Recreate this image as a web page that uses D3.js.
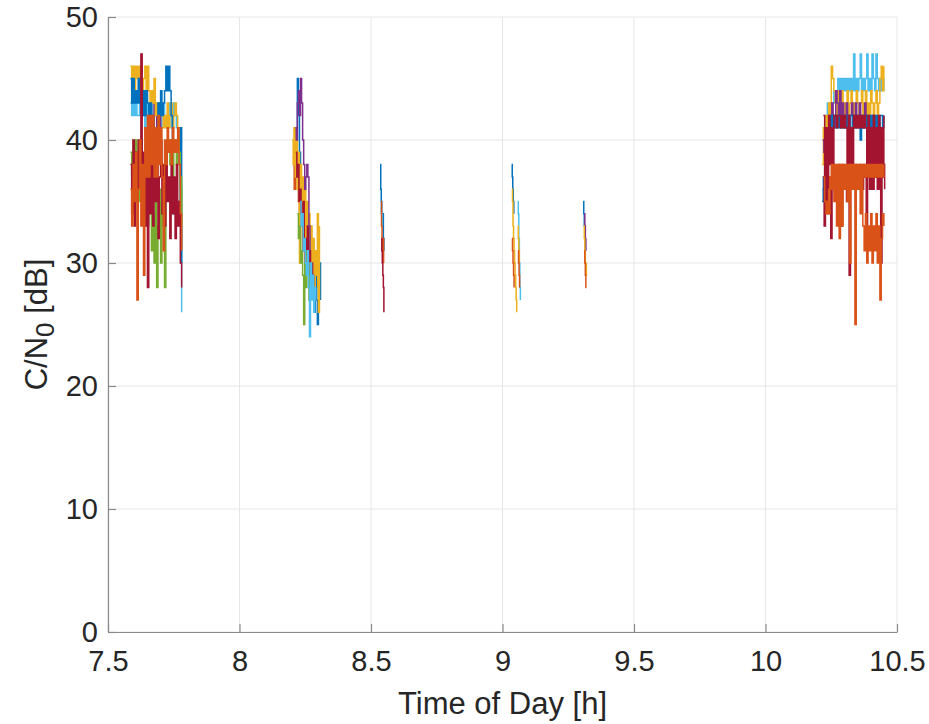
<!DOCTYPE html>
<html><head><meta charset="utf-8">
<script src="https://cdn.jsdelivr.net/npm/d3@7"></script>
<style>
body{margin:0;background:#fff}
svg{display:block}
text{font-family:"Liberation Sans",Arial,Helvetica,sans-serif;fill:#262626}
</style>
</head><body>
<svg id="c" width="929" height="724"></svg>
<script>
// ---------- axis data ----------
const xTicks = [7.5, 8, 8.5, 9, 9.5, 10, 10.5];
const yTicks = [0, 10, 20, 30, 40, 50];
const xDomain = [7.5, 10.5];
const yDomain = [0, 50];
const xLabel = "Time of Day [h]";
const yLabelMain = "C/N";
const yLabelSub = "0";
const yLabelTail = " [dB]";
// MATLAB default color order
const palette = ["#0072BD", "#D95319", "#EDB120", "#7E2F8E", "#77AC30", "#4DBEEE", "#A2142F"];

// ---------- C/N0 series (dB) ----------
// pass 1 (~7.59-7.78 h), step 0.005 h
const c1LightBlue = [43,42,43,42,43,42,42,43,42,43, 42,41,43,42,40,42,43,41,42,43, 42,43,42,41,42,43,42,41,42,43, 42,41,42,43,42,41,40,38,33,26];
const c1Purple = [41,43,42,41,43,42,40,42,41,43];
const c1Yellow = [46,44,46,44,46,45,46,44,46,44, 45,46,43,46,44,42,44,43,45,42, 43,41,43,42,43,41,42,41,43,41, 42,43,41,42,43,42,41,40,36,31];
const c1Blue = [45,43,45,43,44,43,45,43,44,42, 44,42,44,43,41,43,40,42,39,41, 41,43,42,44,42,43,44,46,44,46, 44,42,35,34,35,34,35,34,41,30];
const c1Green = [39,37,40,36,40,38,39,35,40,37, 38,34,37,33,38,35,31,34,30,37, 28,33,36,30,35,33,28,36,39,40, 38,40,37,39,40,38,40,39,37,33];
const c1DarkRed = [38,34,40,33,39,35,40,36,47,34, 39,33,37,28,38,34,40,33,38,35, 39,32,37,40,34,38,33,39,35,37, 32,38,34,37,32,38,33,35,30,28];
const c1Orange = [36,33,38,35,39,27,36,40,33,38, 29,41,37,42,37,42,38,42,37,41, 37,42,38,41,37,31,40,38,41,39, 40,38,41,39,40,39,41,38,34,31];
// pass 2 (~8.20-8.31 h), step 0.004 h
const c2Yellow = [40,38,41,37,40,36,39,30,38,35,37,33,36,31,35,30,34,29,33,28,32,27,31,29,34,26,33];
const c2Yellow2 = [39,41,38,40,36,38,34,37,33,36,32,35,31,34,30,33,29,32,28,31,27,30,28,29,27];
const c2Purple = [41,40,43,44,42,45,43,40,38,36,37,38,37,33,31];
const c2Blue = [40,45,42,39,36,35,36,34,33,31,34,30,32,29,31,28,30,26,29,27,25,28,30,27];
const c2Orange = [38,36,38,37,36,35,34,33,35,31,32,29,31,30,29,31,28,30,29,31,28,29];
const c2Green = [34,32,33,30,31,29,25,30,28,31,29,27,30,28];
const c2LightBlue = [35,33,34,31,32,30,29,31,28,24,30,27,29,26,28,27];
const c2DarkRed = [39,37,38,35,36,34,33,35,31,32,30,33,29,31,28,30,29,27];
// pass 3 (~8.54 h), step 0.002 h
const c3Blue = [38,36,35,34,33,34,32,31];
const c3LightBlue = [35,34,33,34];
const c3Orange = [35,33,32,31,32,30];
const c3DarkRed = [32,31,30,29,28,26];
// pass 4 (~9.04-9.06 h), step 0.002 h
const c4Blue = [38,37,36,35,34];
const c4Yellow = [36,35,33,32,31,30,29,28,27,26];
const c4Orange = [32,31,30,29,28];
const c4LightBlue = [35,34,32,30,28,27];
const c4Orange2 = [31,30,29,28];
const c4Yellow2 = [33,32,31,30];
// pass 5 (~9.31 h), step 0.002 h
const c5Blue = [35,34,33,32,31];
const c5Purple = [34,33,32,31];
const c5Yellow = [33,32,31,30,29,30];
const c5Orange = [31,30,29,28,28];
// pass 6 (~10.22-10.45 h), step 0.005 h
const c6LightBlue = [36,35,38,42,43,42,43,42,43,44, 43,44,45,44,45,44,45,44,45,44, 45,44,45,44,47,44,45,44,45,47, 44,45,44,45,47,44,45,44,47,45, 44,47,45,44,45,44,45,44];
const c6Yellow = [38,41,37,42,40,43,42,46,45,44, 43,42,44,43,42,44,43,42,43,44, 42,43,44,42,43,42,44,43,42,43, 44,42,43,44,42,43,42,44,43,42, 43,44,42,43,45,46,44,46];
const c6Purple = [40,39,41,40,38,42,41,43,42,41, 44,43,42,44,41,43,42,41,43,42, 41,42,43,41,42,43,41,42,43,41, 42,41,43,42,41,42,41,41,42,41];
const c6Blue = [35,37,36,39,41,40,41,42,41,42, 42,41,42,41,42,42,41,42,41,42, 41,42,42,41,42,41,42,42,41,40, 42,41,42,41,42,40,41,42,41,42, 41,42,40,41,42,42,41,42];
const c6DarkRedHigh = [42,37,41,36,42,38,41,37,42, 42,41,42,42,41,42,41,42, 41,36,42,37,41,36, 42,41,42,41,42,41,42,41,42,41, 37,42,36,41,38,42,37,41,36,42,38,41,37,42];
const c6DarkRedLow = [37,33,38,35,37,36,32,37,38,36, 37,35,38,37,33,38,36,37,35,38, 29,36,38,37,36,38,37,36,38,37, 36,38,37,32,38,37,36,38,36,37, 38,37,36,37,30,37,38,36];
const c6OrangeLow = [37,35,34,35,34, 37,36,37,35,37, 33,37,32,37,33,37,36, 37,35,37,30,37,36, 37,25,37,36, 37,34,37,33, 31,34,30,33,31,34,30,33,31,34,30,33,27,32, 34,33];
const c6OrangeBand = [35,34,36,37,38,37,38,37,38,37, 38,37,38,37,38,37,38,37,38,37, 38,37,38,37,38,37,38,37,38,37, 38,37,38,37,38,37,38,37,38,37, 38,37,38,37,38];

// series table: [values, start time (h), step (h), palette index] — drawn in this order
const series = [
  [c1LightBlue, 7.585, 0.005, 5], [c1Purple, 7.655, 0.005, 3], [c1Yellow, 7.585, 0.005, 2],
  [c1Blue, 7.585, 0.005, 0], [c1Green, 7.585, 0.005, 4], [c1DarkRed, 7.585, 0.005, 6],
  [c1Orange, 7.585, 0.005, 1],
  [c2Yellow2, 8.204, 0.004, 2], [c2Orange, 8.204, 0.004, 1], [c2Blue, 8.216, 0.004, 0],
  [c2Yellow, 8.200, 0.004, 2], [c2DarkRed, 8.214, 0.004, 6], [c2Green, 8.220, 0.004, 4],
  [c2LightBlue, 8.230, 0.004, 5], [c2Purple, 8.212, 0.004, 3],
  [c3Blue, 8.535, 0.002, 0], [c3LightBlue, 8.537, 0.002, 5], [c3Orange, 8.538, 0.002, 1],
  [c3DarkRed, 8.539, 0.002, 6],
  [c4Blue, 9.035, 0.002, 0], [c4Yellow, 9.036, 0.002, 2], [c4Orange, 9.036, 0.002, 1],
  [c4LightBlue, 9.058, 0.002, 5], [c4Yellow2, 9.058, 0.002, 2], [c4Orange2, 9.059, 0.002, 1],
  [c5Blue, 9.307, 0.002, 0], [c5Purple, 9.311, 0.002, 3], [c5Yellow, 9.309, 0.002, 2],
  [c5Orange, 9.311, 0.002, 1],
  [c6LightBlue, 10.215, 0.005, 5], [c6Yellow, 10.215, 0.005, 2], [c6Purple, 10.217, 0.005, 3],
  [c6Blue, 10.215, 0.005, 0], [c6DarkRedHigh, 10.220, 0.005, 6], [c6DarkRedLow, 10.218, 0.005, 6],
  [c6OrangeLow, 10.220, 0.005, 1], [c6OrangeBand, 10.230, 0.005, 1]
];

// ---------- drawing ----------
const svg = d3.select("#c");
const M = {left: 108, right: 897, top: 17, bottom: 632};
const x = d3.scaleLinear().domain(xDomain).range([M.left, M.right]);
const y = d3.scaleLinear().domain(yDomain).range([M.bottom, M.top]);

// grid
const grid = svg.append("g");
grid.selectAll("line.gx").data(xTicks).join("line")
  .attr("x1", d => x(d)).attr("x2", d => x(d)).attr("y1", M.top).attr("y2", M.bottom)
  .attr("stroke", "#e6e6e6").attr("stroke-width", 1);
grid.selectAll("line.gy").data(yTicks).join("line")
  .attr("y1", d => y(d)).attr("y2", d => y(d)).attr("x1", M.left).attr("x2", M.right)
  .attr("stroke", "#e6e6e6").attr("stroke-width", 1);

svg.append("clipPath").attr("id", "clip").append("rect")
  .attr("x", M.left).attr("y", M.top).attr("width", M.right - M.left).attr("height", M.bottom - M.top);

const line = d3.line().curve(d3.curveStepAfter);
const gData = svg.append("g").attr("clip-path", "url(#clip)");
series.forEach(([vals, t0, dt, ci]) => {
  gData.append("path")
    .attr("d", line(vals.map((v, i) => [x(t0 + i * dt), y(v)])))
    .attr("fill", "none").attr("stroke", palette[ci]).attr("stroke-width", 1.5)
    .attr("stroke-linejoin", "miter");
});

// axes
const xAxis = d3.axisBottom(x).tickValues(xTicks).tickFormat(d3.format("~g")).tickSizeInner(-8).tickSizeOuter(0).tickPadding(18);
const yAxis = d3.axisLeft(y).tickValues(yTicks).tickFormat(d3.format("~g")).tickSizeInner(-8).tickSizeOuter(0).tickPadding(10);
const gx = svg.append("g").attr("transform", `translate(0,${M.bottom})`).call(xAxis);
const gy = svg.append("g").attr("transform", `translate(${M.left},0)`).call(yAxis);
[gx, gy].forEach(g => {
  g.select(".domain").attr("stroke", "#8a8a8a").attr("stroke-width", 1.2);
  g.selectAll(".tick line").attr("stroke", "#8a8a8a").attr("stroke-width", 1.2);
  g.selectAll(".tick text").attr("font-size", 29).attr("fill", "#262626")
    .attr("font-family", "'Liberation Sans', Arial, sans-serif");
});

svg.append("text").attr("x", (M.left + M.right) / 2).attr("y", 714)
  .attr("text-anchor", "middle").attr("font-size", 31).text(xLabel);

const yl = svg.append("text").attr("transform", `translate(47,${(M.top + M.bottom) / 2}) rotate(-90)`)
  .attr("text-anchor", "middle").attr("font-size", 31);
yl.append("tspan").text(yLabelMain);
yl.append("tspan").attr("font-size", 26).attr("dy", 7).text(yLabelSub);
yl.append("tspan").attr("dy", -7).text(yLabelTail);
</script>
</body></html>
